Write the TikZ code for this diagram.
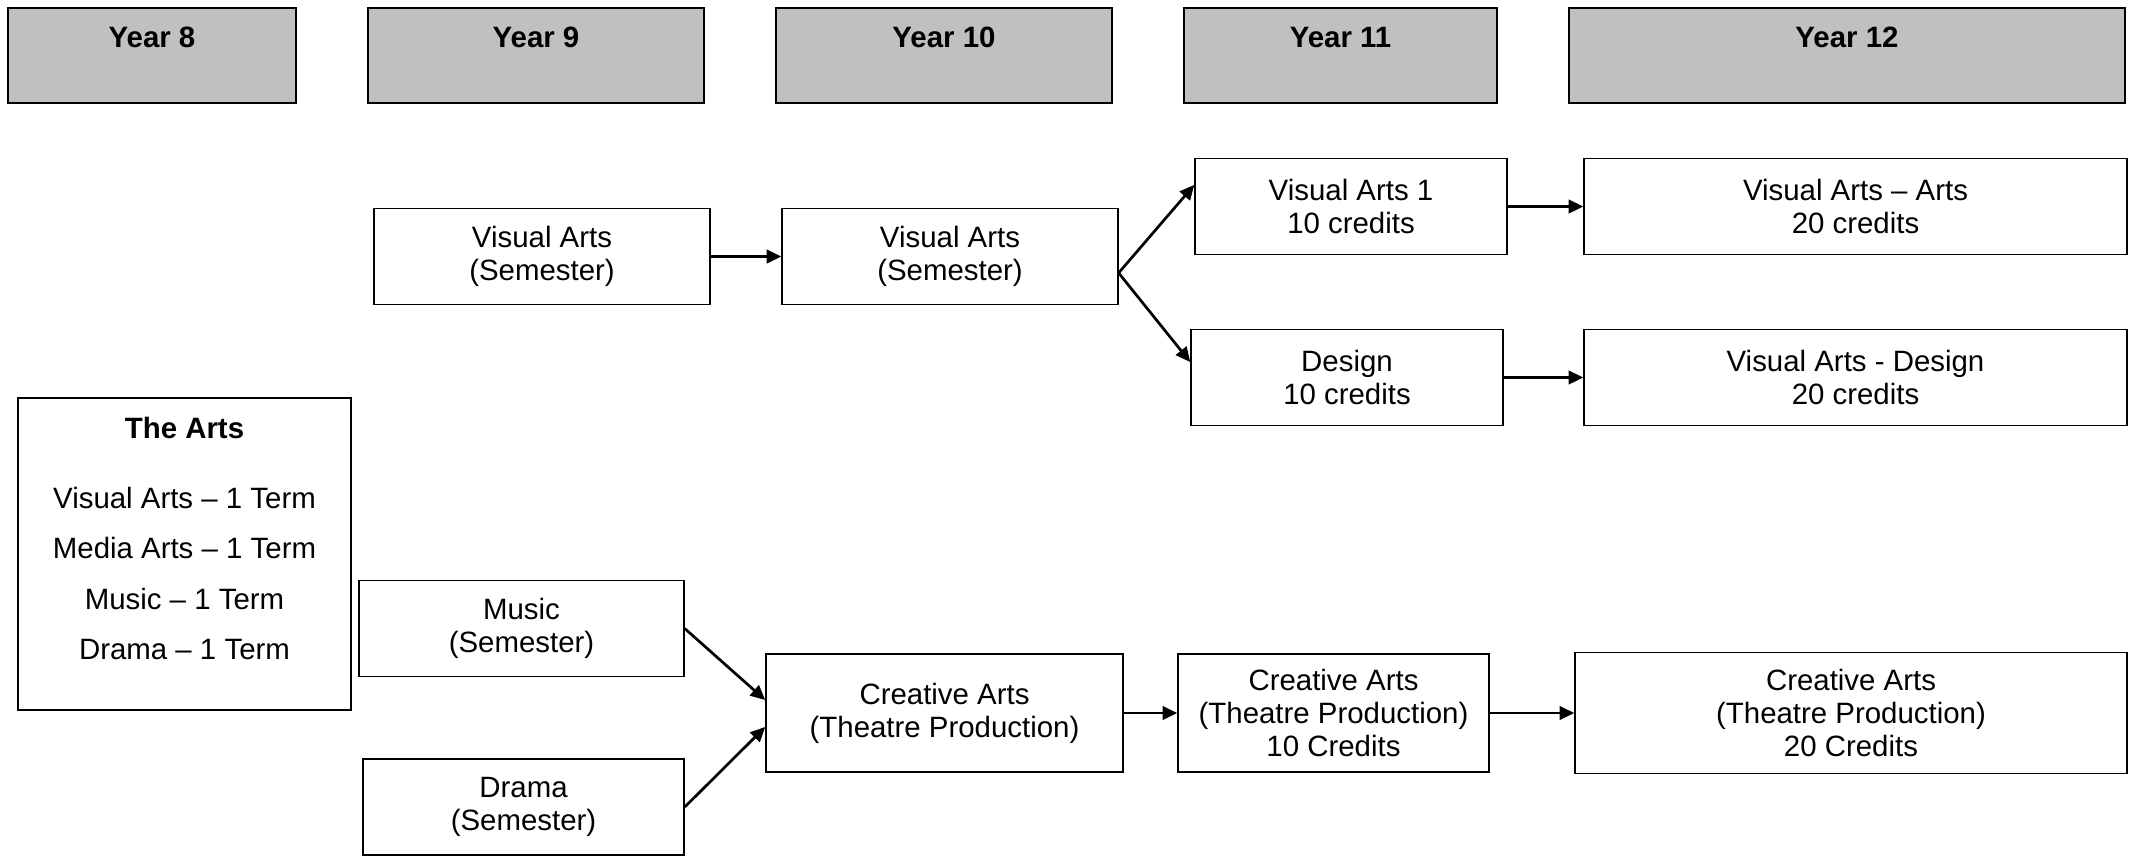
\documentclass[tikz,border=0pt]{standalone}
\usepackage{fontspec}
\setmainfont{Liberation Sans}
\usetikzlibrary{positioning}
\usetikzlibrary{arrows.meta}
\definecolor{headgray}{HTML}{C0C0C0}

\begin{document}
\begin{tikzpicture}[x=0.408pt,y=-0.408pt,
  every node/.style={font=\fontsize{12}{13.5}\selectfont,align=center},
  yearbox/.style={draw,fill=headgray,line width=0.6pt,inner ysep=7pt,text height=9pt,text depth=15.8pt,font=\fontsize{12}{13.5}\selectfont\bfseries},
  subjbox/.style={draw,line width=0.6pt,minimum height=39pt},
  link/.style={line width=1.1pt,-{Triangle[length=6pt,width=5.5pt]}}]
  \useasboundingbox (0,0) rectangle (2132,856);
  % year headers
  \node[yearbox,minimum width=117.5pt] (y8) at (152,55.5) {Year 8};
  \node[yearbox,minimum width=137pt] (y9) at (536,55.5) {Year 9};
  \node[yearbox,minimum width=137pt] (y10) at (944,55.5) {Year 10};
  \node[yearbox,minimum width=127.7pt] (y11) at (1340.5,55.5) {Year 11};
  \node[yearbox,minimum width=226.8pt] (y12) at (1847,55.5) {Year 12};
  % visual arts
  \node[subjbox,minimum width=137pt] (va9) at (542,256.5) {Visual Arts\\(Semester)};
  \node[subjbox,minimum width=137pt] (va10) at (950,256.5) {Visual Arts\\(Semester)};
  \node[subjbox,minimum width=127.3pt] (va11) at (1351,206.5) {Visual Arts 1\\10 credits};
  \node[subjbox,minimum width=127.3pt] (des11) at (1347,377.5) {Design\\10 credits};
  \node[subjbox,minimum width=221.5pt] (va12) at (1855.5,206.5) {Visual Arts – Arts\\20 credits};
  \node[subjbox,minimum width=221.5pt] (des12) at (1855.5,377.5) {Visual Arts - Design\\20 credits};
  % year 8
  \node[draw,line width=0.6pt,minimum width=135.9pt,minimum height=127.3pt] (arts) at (184.5,554) {};
  \node[below=8pt of arts.north,inner sep=0pt] (artslist) {\textbf{The Arts}\\[15pt]Visual Arts – 1 Term\\[7pt]Media Arts – 1 Term\\[7pt]Music – 1 Term\\[7pt]Drama – 1 Term};
  % creative arts
  \node[subjbox,minimum width=132.6pt] (mus9) at (521.5,628.5) {Music\\(Semester)};
  \node[subjbox,minimum width=131pt] (dra9) at (523.5,807) {Drama\\(Semester)};
  \node[subjbox,minimum width=145.7pt,minimum height=48.1pt] (ca10) at (944.5,713) {Creative Arts\\(Theatre Production)};
  \node[subjbox,minimum width=126.9pt,minimum height=48.1pt] (ca11) at (1333.5,713) {Creative Arts\\(Theatre Production)\\10 Credits};
  \node[subjbox,minimum width=225.2pt,minimum height=49.4pt] (ca12) at (1851,713) {Creative Arts\\(Theatre Production)\\20 Credits};
  \draw[link] (va9) -- (va10);
  \draw[link] ([yshift=-6.7pt]va10.east) -- ([yshift=8.8pt]va11.west);
  \draw[link] ([yshift=-6.7pt]va10.east) -- ([yshift=6.3pt]des11.west);
  \draw[link] (va11) -- (va12);
  \draw[link] (des11) -- (des12);
  \draw[link] (mus9.east) -- ([yshift=5.3pt]ca10.west);
  \draw[link] (dra9.east) -- ([yshift=-5.7pt]ca10.west);
  \draw[link] (ca10) -- (ca11);
  \draw[link] (ca11) -- (ca12);
\end{tikzpicture}
\end{document}
